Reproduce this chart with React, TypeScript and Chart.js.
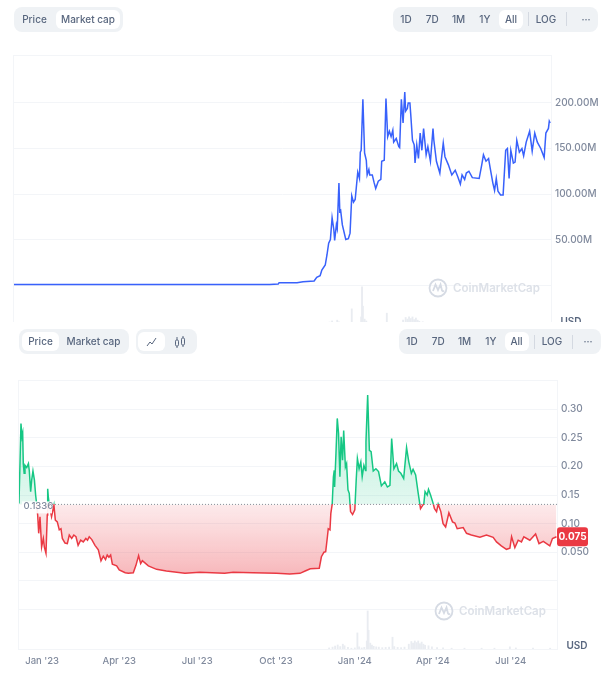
import { useEffect, useRef } from "react"
import { Chart, registerables } from "chart.js"

Chart.register(...registerables)
Chart.defaults.font.family = "Inter"

// market cap in millions, x is days since the first trading day (Dec 5 '22)
const capDays = [0, 100, 200, 299, 309, 310, 331, 338, 351, 354, 358, 360, 364, 366, 368, 370, 372, 374, 375, 377, 378, 380, 381, 382, 384, 388, 391, 393, 395, 397, 399, 402, 404, 405, 406, 408, 410, 412, 413, 415, 416, 419, 421, 423, 426, 429, 430, 433, 435, 437, 439, 441, 443, 444, 447, 450, 451, 453, 454, 455, 457, 458, 460, 461, 463, 464, 466, 468, 469, 471, 473, 475, 477, 479, 482, 484, 487, 490, 491, 494, 498, 502, 504, 508, 512, 516, 519, 522, 524, 527, 529, 532, 536, 544, 547, 549, 552, 555, 557, 560, 562, 564, 566, 569, 572, 575, 577, 579, 581, 584, 586, 588, 591, 594, 596, 599, 603, 606, 609, 612, 616, 620, 622, 625, 626, 627]
const capValues = [0.7, 0.7, 0.7, 0.7, 1.1, 2.6, 2.6, 3.7, 4.4, 8.4, 10.3, 16.5, 22, 33, 46, 50, 74, 61, 49, 66, 62, 112, 81, 82, 66, 50, 51, 57, 98, 91, 94, 124, 117, 146, 148, 204, 145, 137, 121, 127, 121, 121, 113, 106, 114, 116, 136, 137, 205, 163, 169, 163, 170, 157, 161, 152, 151, 204, 191, 178, 212, 191, 194, 200, 200, 187, 159, 154, 134, 154, 139, 167, 148, 172, 143, 152, 136, 172, 159, 136, 123, 156, 141, 132, 121, 126, 119, 111, 121, 116, 123, 125, 118, 117, 132, 143, 136, 139, 128, 112, 104, 117, 103, 99, 99, 148, 150, 117, 148, 134, 135, 159, 146, 150, 142, 157, 169, 147, 167, 157, 150, 140, 167, 172, 180, 178]
const capTicks = [200, 150, 100, 50, 0]
const capTickLabels = ["200.00M", "150.00M", "100.00M", "50.00M", ""]

const priceDays = [0, 1, 2.3, 3.5, 4.3, 5, 6, 7, 9, 11, 12, 13.6, 14.8, 16.3, 18, 19.4, 20.6, 21.8, 23, 24.5, 26.4, 28.4, 29.6, 31.5, 33, 33.5, 34.2, 35.4, 38, 40.8, 42.4, 44.7, 47, 49, 50.6, 53.7, 56.4, 58.7, 61.5, 64, 66.5, 69, 72, 75, 78, 80, 82, 85, 88.7, 92.6, 95.7, 98.4, 101, 103, 105, 107, 109, 114, 117, 124, 127.6, 133.4, 136.5, 139.6, 142, 144, 151, 160.6, 172, 193.7, 211, 240, 250, 273, 300.7, 316, 328, 334, 340, 350.5, 353, 356, 358, 360, 361, 363, 364, 365.6, 367, 368, 368.4, 370, 371.5, 373, 374.6, 376, 377.7, 379, 381, 382.4, 384, 385.5, 387, 389.4, 392, 393.6, 395, 397, 399, 400.6, 402.6, 404.5, 405, 407, 409, 411, 413.5, 416.6, 419.7, 423, 427, 430, 433, 435, 437.6, 440.7, 443, 445.7, 449, 452.4, 455, 458, 460, 463, 466, 468.7, 472.6, 474, 476.5, 478, 480.4, 483.5, 485, 487.4, 489.3, 492.4, 495, 498, 501.8, 506, 508.8, 511.5, 518.5, 522.4, 528, 538, 545.7, 553.5, 557.4, 563, 569, 573, 575, 578.8, 582.7, 586.5, 589.3, 596.3, 603, 607, 612, 619.6, 622.7, 627.4]
const priceValues = [0.135, 0.135, 0.275, 0.252, 0.258, 0.205, 0.188, 0.202, 0.198, 0.205, 0.193, 0.156, 0.176, 0.192, 0.176, 0.15, 0.134, 0.115, 0.083, 0.112, 0.059, 0.074, 0.059, 0.048, 0.115, 0.161, 0.147, 0.132, 0.112, 0.132, 0.106, 0.103, 0.089, 0.091, 0.074, 0.066, 0.065, 0.08, 0.074, 0.08, 0.077, 0.062, 0.071, 0.068, 0.074, 0.071, 0.077, 0.072, 0.062, 0.054, 0.035, 0.043, 0.037, 0.045, 0.041, 0.045, 0.029, 0.026, 0.019, 0.014, 0.013, 0.014, 0.027, 0.044, 0.03, 0.035, 0.026, 0.02, 0.017, 0.013, 0.015, 0.013, 0.015, 0.014, 0.013, 0.012, 0.013, 0.017, 0.021, 0.022, 0.042, 0.05, 0.051, 0.077, 0.091, 0.089, 0.118, 0.134, 0.182, 0.193, 0.164, 0.223, 0.284, 0.258, 0.182, 0.252, 0.211, 0.263, 0.199, 0.205, 0.159, 0.153, 0.121, 0.116, 0.124, 0.176, 0.214, 0.196, 0.208, 0.182, 0.202, 0.193, 0.243, 0.325, 0.228, 0.226, 0.192, 0.196, 0.191, 0.166, 0.173, 0.164, 0.167, 0.249, 0.196, 0.205, 0.192, 0.188, 0.179, 0.233, 0.208, 0.188, 0.195, 0.185, 0.153, 0.126, 0.135, 0.156, 0.15, 0.16, 0.15, 0.135, 0.126, 0.121, 0.134, 0.121, 0.1, 0.094, 0.119, 0.103, 0.101, 0.091, 0.093, 0.083, 0.08, 0.076, 0.08, 0.076, 0.068, 0.061, 0.055, 0.057, 0.077, 0.058, 0.071, 0.068, 0.077, 0.071, 0.082, 0.065, 0.069, 0.061, 0.074, 0.077]
const priceTicks = [0.3, 0.25, 0.2, 0.15, 0.1, 0.05, 0, -0.05]
const priceTickLabels = ["0.30", "0.25", "0.20", "0.15", "0.10", "0.050", "", ""]
const baselinePrice = 0.1336
const baselineLabel = "0.1336"
const currentPriceLabel = "0.075"

const volumeDays = [362, 366, 369, 372, 375, 378, 380, 384, 388, 392, 395, 397, 400, 403, 406, 407, 408, 410, 412, 414, 417, 420, 424, 428, 432, 436, 438, 442, 446, 450, 455, 458, 460, 462, 464, 466, 468, 470, 472, 474, 478, 482, 488, 495, 505, 520, 540, 555, 573, 580, 600, 620]
const volumeValues = [4, 7, 11, 15, 9, 18, 12, 6, 3, 4, 60, 8, 4, 6, 30, 142, 70, 22, 15, 10, 8, 7, 5, 6, 7, 44, 9, 6, 5, 7, 18, 28, 22, 30, 24, 30, 20, 26, 18, 14, 12, 8, 5, 4, 3, 3, 3, 3, 8, 4, 3, 3]

const dateTicks = [27, 117, 208, 300, 392, 483, 574]
const dateLabels = ["Jan '23", "Apr '23", "Jul '23", "Oct '23", "Jan '24", "Apr '24", "Jul '24"]

const GRID = "#f3f5f8"
const TEXT = "#808a9d"
const LAST_DAY = 628

const points = (xs: number[], ys: number[]) => xs.map((x, i) => ({ x, y: ys[i] }))

const volumeDataset = {
  type: "bar" as const,
  data: points(volumeDays, volumeValues),
  yAxisID: "yVol",
  backgroundColor: "#e9ecf1",
  barThickness: 1.2,
  order: 2,
}

const usdPlugin = {
  id: "usdLabel",
  afterDraw(chart: any) {
    const { ctx, chartArea } = chart
    ctx.save()
    ctx.font = "600 10px Inter"
    ctx.fillStyle = "#58667e"
    ctx.textBaseline = "middle"
    ctx.fillText("USD", chartArea.right + 9.5, chartArea.bottom - 3)
    ctx.restore()
  },
}

const framePlugin = {
  id: "frame",
  beforeDatasetsDraw(chart: any) {
    const { ctx, chartArea: a } = chart
    ctx.save()
    ctx.strokeStyle = GRID
    ctx.lineWidth = 1
    ctx.strokeRect(a.left - 0.5, a.top - 0.5, a.right - a.left + 1, a.bottom - a.top + 1)
    ctx.restore()
  },
}

// dotted open price line with its label, and the red tag with the last price
const pricePlugin = {
  id: "priceMarks",
  afterDatasetsDraw(chart: any) {
    const { ctx, chartArea: a, scales } = chart
    const y = scales.y.getPixelForValue(baselinePrice)
    ctx.save()
    ctx.strokeStyle = "#8a8f99"
    ctx.setLineDash([1, 2])
    ctx.beginPath()
    ctx.moveTo(a.left + 33, y)
    ctx.lineTo(a.right, y)
    ctx.stroke()
    ctx.setLineDash([])
    ctx.fillStyle = "rgba(255,255,255,0.92)"
    ctx.fillRect(a.left + 3, y - 3, 30, 12)
    ctx.font = "500 9.5px Inter"
    ctx.fillStyle = TEXT
    ctx.textBaseline = "middle"
    ctx.fillText(baselineLabel, a.left + 4.5, y + 2)

    const lastY = scales.y.getPixelForValue(priceValues[priceValues.length - 1])
    ctx.fillStyle = "#ea3943"
    ctx.beginPath()
    ctx.roundRect(a.right, lastY - 9.5, 31, 19, 3)
    ctx.fill()
    ctx.font = "700 10px Inter"
    ctx.fillStyle = "#ffffff"
    ctx.textAlign = "center"
    ctx.fillText(currentPriceLabel, a.right + 15.5, lastY + 0.5)
    ctx.restore()
  },
}

function options(o: { yMin: number; yMax: number; ticks: number[]; labels: string[]; rightWidth: number; left: number; top: number; xHeight: number; showDates: boolean }) {
  return {
    responsive: false,
    animation: false as const,
    layout: { autoPadding: false, padding: { left: o.left, top: o.top, right: 0, bottom: 0 } },
    plugins: { legend: { display: false }, tooltip: { enabled: false } },
    scales: {
      x: {
        type: "linear" as const,
        min: 0,
        max: LAST_DAY,
        offset: false,
        grid: { display: false, drawTicks: false },
        border: { display: false },
        afterBuildTicks: (s: any) => {
          s.ticks = dateTicks.map((value) => ({ value }))
        },
        afterFit: (s: any) => {
          s.height = o.xHeight
        },
        ticks: {
          display: o.showDates,
          autoSkip: false,
          maxRotation: 0,
          padding: 6,
          color: TEXT,
          font: { size: 9.5, weight: 500 },
          callback: (_: any, i: number) => dateLabels[i],
        },
      },
      y: {
        position: "right" as const,
        min: o.yMin,
        max: o.yMax,
        border: { display: false },
        grid: { color: GRID, drawTicks: false },
        afterBuildTicks: (s: any) => {
          s.ticks = o.ticks.map((value) => ({ value }))
        },
        afterFit: (s: any) => {
          s.width = o.rightWidth
        },
        ticks: {
          autoSkip: false,
          padding: 4,
          color: TEXT,
          font: { size: 10, weight: 500 },
          callback: (_: any, i: number) => o.labels[i],
        },
      },
      yVol: { display: false, min: 0, max: 1000 },
    },
  }
}

function Watermark({ x, y }: { x: number; y: number }) {
  return (
    <div style={{ position: "absolute", left: x, top: y, height: 20, display: "flex", alignItems: "center", gap: 5 }}>
      <svg width="20" height="20" viewBox="0 0 20 20" fill="none" stroke="#d6dbe4" strokeWidth="1.8">
        <circle cx="10" cy="10" r="8.5" />
        <path d="M5 13 L7.5 6.5 L10 12 L12.5 6.5 L14 12.5 Q15 14 16 12.5" />
      </svg>
      <span style={{ font: "600 11.5px Inter", color: "#dde1e8", whiteSpace: "nowrap" }}>CoinMarketCap</span>
    </div>
  )
}

function Group({ x, y, w, h = 25 }: { x: number; y: number; w: number; h?: number }) {
  return <div style={{ position: "absolute", left: x, top: y, width: w, height: h, background: "#eff2f5", borderRadius: 8 }} />
}

function Btn({ cx, y, label, active, w = 24 }: { cx: number; y: number; label: string; active?: boolean; w?: number }) {
  return (
    <div
      style={{
        position: "absolute",
        left: cx - w / 2,
        top: y,
        width: w,
        height: 19,
        textAlign: "center",
        font: "500 10px/19px Inter",
        color: "#58667e",
        whiteSpace: "nowrap",
        background: active ? "#ffffff" : "transparent",
        borderRadius: 6,
      }}
    >
      {label}
    </div>
  )
}

function Divider({ x, y }: { x: number; y: number }) {
  return <div style={{ position: "absolute", left: x, top: y, width: 1, height: 14, background: "#d4d9e1" }} />
}

export default function App() {
  const capRef = useRef<HTMLCanvasElement>(null)
  const priceRef = useRef<HTMLCanvasElement>(null)

  useEffect(() => {
    if (!capRef.current || !priceRef.current) return

    const capChart = new Chart(capRef.current, {
      type: "line",
      data: {
        datasets: [
          {
            data: points(capDays, capValues),
            borderColor: "#3861fb",
            borderWidth: 1.5,
            pointRadius: 0,
            tension: 0,
            order: 1,
          },
          volumeDataset,
        ],
      },
      options: options({ yMin: -43.9, yMax: 251.6, ticks: capTicks, labels: capTickLabels, rightWidth: 61, left: 14, top: 56, xHeight: 15, showDates: false }),
      plugins: [framePlugin, usdPlugin],
    } as any)

    const priceChart = new Chart(priceRef.current, {
      type: "line",
      data: {
        datasets: [
          {
            data: points(priceDays, priceValues),
            borderColor: "#ea3943",
            borderWidth: 1.5,
            pointRadius: 0,
            tension: 0,
            order: 1,
          },
          volumeDataset,
        ],
      },
      options: options({ yMin: -0.1194, yMax: 0.3495, ticks: priceTicks, labels: priceTickLabels, rightWidth: 55, left: 19, top: 56, xHeight: 29, showDates: true }),
      plugins: [framePlugin, usdPlugin, pricePlugin],
    } as any)

    // the gradients need the pixel of the baseline, so they come after the first layout
    const ctx = priceChart.ctx
    const { top, bottom } = priceChart.chartArea
    const yBase = priceChart.scales.y.getPixelForValue(baselinePrice)
    const stop = (yBase - top) / (bottom - top)
    const lineColor = ctx.createLinearGradient(0, top, 0, bottom)
    lineColor.addColorStop(0, "#16c784")
    lineColor.addColorStop(stop, "#16c784")
    lineColor.addColorStop(stop, "#ea3943")
    lineColor.addColorStop(1, "#ea3943")
    const above = ctx.createLinearGradient(0, priceChart.scales.y.getPixelForValue(0.33), 0, yBase)
    above.addColorStop(0, "rgba(22,199,132,0.32)")
    above.addColorStop(1, "rgba(22,199,132,0.12)")
    const below = ctx.createLinearGradient(0, yBase, 0, priceChart.scales.y.getPixelForValue(0.01))
    below.addColorStop(0, "rgba(234,57,67,0.1)")
    below.addColorStop(1, "rgba(234,57,67,0.36)")
    const ds = priceChart.data.datasets[0] as any
    ds.borderColor = lineColor
    ds.fill = { value: baselinePrice, above, below }
    priceChart.update("none")

    return () => {
      capChart.destroy()
      priceChart.destroy()
    }
  }, [])

  return (
    <div style={{ position: "absolute", left: 0, top: 0, width: 612, height: 678, overflow: "hidden", background: "#fff" }}>
      <div style={{ position: "absolute", left: 0, top: 0, width: 612, height: 322, overflow: "hidden" }}>
        <canvas ref={capRef} width={612} height={340} style={{ display: "block" }} />
      </div>
      <div style={{ position: "absolute", left: 0, top: 325 }}>
        <canvas ref={priceRef} width={612} height={353} style={{ display: "block" }} />
      </div>
      <Watermark x={428} y={278} />
      <Watermark x={434} y={601} />

      <Group x={14} y={7} w={109} />
      <Btn cx={34.5} y={10} label="Price" w={36} />
      <Btn cx={88} y={10} label="Market cap" active w={64} />
      <Group x={393} y={7} w={205} />
      {["1D", "7D", "1M", "1Y"].map((t, i) => (
        <Btn key={t} cx={406 + i * 26.3} y={10} label={t} />
      ))}
      <Btn cx={511} y={10} label="All" active />
      <Divider x={528} y={12} />
      <Btn cx={546} y={10} label="LOG" />
      <Divider x={566} y={12} />
      <Btn cx={586} y={10} label="···" />

      <Group x={19} y={329} w={110} />
      <Btn cx={40.5} y={332} label="Price" active w={37} />
      <Btn cx={93.5} y={332} label="Market cap" w={64} />
      <Group x={136} y={329} w={61} />
      <div style={{ position: "absolute", left: 138, top: 332, width: 27, height: 19, background: "#fff", borderRadius: 6 }} />
      <svg style={{ position: "absolute", left: 146, top: 336 }} width="11" height="11" viewBox="0 0 11 11" fill="none" stroke="#58667e" strokeWidth="1">
        <path d="M1 10 L4 6 L6 8 L10 2" />
      </svg>
      <svg style={{ position: "absolute", left: 174, top: 336 }} width="12" height="12" viewBox="0 0 12 12" fill="none" stroke="#58667e" strokeWidth="1">
        <rect x="1.5" y="4" width="3" height="6" rx="1.2" />
        <rect x="7.5" y="2" width="3" height="7" rx="1.2" />
        <path d="M3 1 V4 M3 10 V12 M9 0 V2 M9 9 V11" />
      </svg>
      <Group x={399} y={329} w={202} />
      {["1D", "7D", "1M", "1Y"].map((t, i) => (
        <Btn key={t} cx={412 + i * 26.3} y={332} label={t} />
      ))}
      <Btn cx={516.5} y={332} label="All" active />
      <Divider x={534} y={335} />
      <Btn cx={552} y={332} label="LOG" />
      <Divider x={572} y={335} />
      <Btn cx={588} y={332} label="···" />
    </div>
  )
}
